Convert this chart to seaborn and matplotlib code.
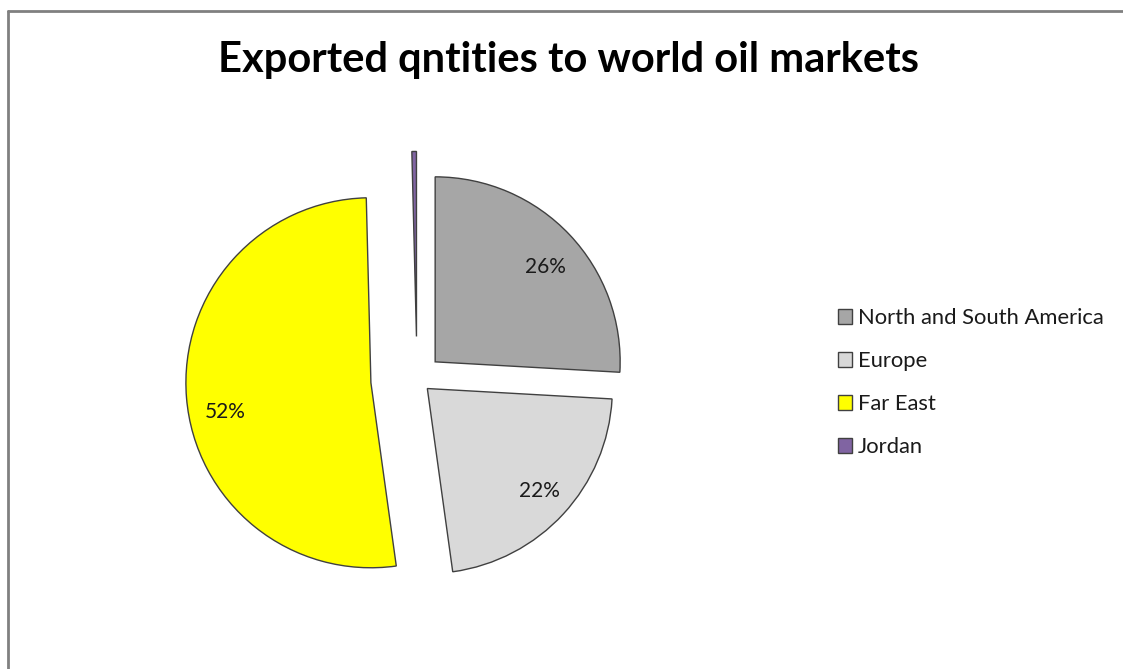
import matplotlib
matplotlib.use("Agg")
import matplotlib.pyplot as plt
from matplotlib.patches import Patch
from matplotlib.lines import Line2D
import seaborn as sns

sns.set_theme(style="white")
plt.rcParams["font.family"] = ["Lato", "DejaVu Sans"]

# Export destinations and their shares (%)
regions = ["North and South America", "Europe", "Far East", "Jordan"]
shares = [26.0, 22.0, 52.0, 0.4]
colors = ["#A6A6A6", "#D9D9D9", "#FFFF00", "#8064A2"]
explode_frac = [0.135, 0.076, 0.25, 0.23]

W, H = 1123, 669
fig = plt.figure(figsize=(W / 100, H / 100), dpi=100)
fig.patch.set_facecolor("white")
ax = fig.add_axes([0, 0, 1, 1])

radius = 185


def pct_label(p):
    return f"{p:.0f}%" if p >= 1 else ""


wedges, texts, autotexts = ax.pie(
    shares,
    colors=colors,
    explode=[e * radius for e in explode_frac],
    startangle=90,
    counterclock=False,
    center=(417, H - 379),
    radius=radius,
    autopct=pct_label,
    pctdistance=0.8,
    wedgeprops=dict(edgecolor="#404040", linewidth=1.0),
    textprops=dict(fontsize=15, color="#1a1a1a"),
    frame=True,
)
# small best-fit style nudges of the percentage labels (data units = pixels)
label_nudge = [(3, -7), (3, -2), (2, -17), (0, 0)]
for t, (dx, dy) in zip(autotexts, label_nudge):
    x, y = t.get_position()
    t.set_position((x + dx, y + dy))

ax.set_xlim(0, W)
ax.set_ylim(0, H)
ax.set_aspect("equal")
ax.axis("off")

fig.text(568, H - 60, "Exported qntities to world oil markets",
         transform=None, ha="center", va="center",
         fontsize=30, fontweight="bold", color="black")

handles = [Patch(facecolor=c, edgecolor="#404040", linewidth=1.0) for c in colors]
leg = ax.legend(
    handles, regions,
    loc="upper left",
    bbox_to_anchor=(827 / W, (H - 297) / H),
    bbox_transform=fig.transFigure,
    frameon=False,
    fontsize=15.8,
    handlelength=0.65,
    handleheight=0.65,
    handletextpad=0.25,
    labelspacing=1.05,
    borderpad=0,
)
for t in leg.get_texts():
    t.set_color("#1a1a1a")

# Outer chart border (top and left edges)
fig.add_artist(Line2D([8 / W, 1.0], [(H - 11) / H, (H - 11) / H],
                      transform=fig.transFigure, color="#808080", linewidth=2))
fig.add_artist(Line2D([8 / W, 8 / W], [0, (H - 11) / H],
                      transform=fig.transFigure, color="#808080", linewidth=2))

fig.savefig("out.png", dpi=100, facecolor="white")
